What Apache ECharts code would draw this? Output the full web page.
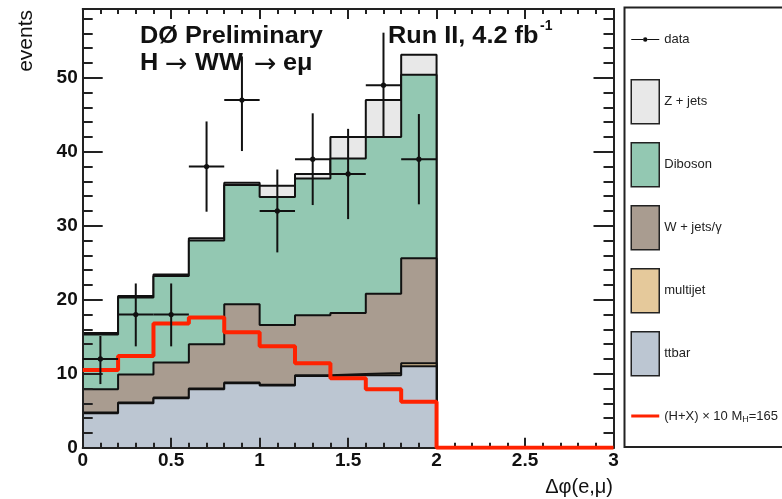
<!DOCTYPE html>
<html>
<head>
<meta charset="utf-8">
<script src="https://cdn.jsdelivr.net/npm/echarts@6/dist/echarts.min.js"></script>
<style>html,body{margin:0;padding:0;background:#fff;}#c{width:782px;height:499px;}</style>
</head>
<body>
<div id="c"></div>
<script>
// ---- data ----
const binEdges = [0, 0.2, 0.4, 0.6, 0.8, 1.0, 1.2, 1.4, 1.6, 1.8, 2.0, 2.2, 2.4, 2.6, 2.8, 3.0];
const ttbar    = [4.65, 6.0, 6.7, 7.9, 8.7, 8.4, 9.7, 9.8, 9.8, 11.0, 0, 0, 0, 0, 0];
const multijet = [0.1, 0.1, 0.1, 0.1, 0.1, 0.1, 0.1, 0.15, 0.3, 0.4, 0, 0, 0, 0, 0];
const wjets    = [3.15, 3.8, 4.7, 6.0, 10.6, 8.1, 8.1, 8.25, 10.7, 14.2, 0, 0, 0, 0, 0];
const diboson  = [7.4, 10.4, 11.7, 14.0, 16.1, 17.3, 18.5, 20.9, 21.2, 24.8, 0, 0, 0, 0, 0];
const zjets    = [0.2, 0.2, 0.2, 0.3, 0.3, 1.5, 0.6, 2.9, 5.0, 2.7, 0, 0, 0, 0, 0];
const signalX10 = [10.5, 12.4, 16.8, 17.6, 15.6, 13.7, 11.4, 9.4, 7.9, 6.2, 0, 0, 0, 0, 0];
const dataX     = [0.1, 0.3, 0.5, 0.7, 0.9, 1.1, 1.3, 1.5, 1.7, 1.9];
const dataY     = [12, 18, 18, 38, 47, 32, 39, 37, 49, 39];
const dataErrUp = [3.1, 4.2, 4.2, 6.1, 5.9, 5.6, 6.2, 6.1, 7.1, 6.1];
const dataErrLo = [3.4, 4.3, 4.3, 6.1, 6.9, 5.6, 6.2, 6.1, 7.0, 6.1];
const xTicks = [0, 0.5, 1, 1.5, 2, 2.5, 3];
const yTicks = [0, 10, 20, 30, 40, 50];

const names = ['Z + jets', 'Diboson', 'W + jets/\u03b3', 'multijet', 'ttbar'];
const colors = ['#e8e8e8', '#93c8b2', '#a99c90', '#e5c99b', '#bcc6d2'];
const comps = [zjets, diboson, wjets, multijet, ttbar];
const signalName = '(H+X) \u00d7 10 M_H=165';

const FONT = '"Liberation Sans", Arial, Helvetica, sans-serif';

function stepPoints(vals) {
  const pts = vals.map((v, i) => [binEdges[i], v]);
  pts.push([binEdges[binEdges.length - 1], vals[vals.length - 1]]);
  return pts;
}
function cumulativeFrom(k) {
  return binEdges.slice(0, -1).map((_, i) => {
    let s = 0;
    for (let j = k; j < comps.length; j++) s += comps[j][i];
    return +s.toFixed(4);
  });
}

const series = [];
names.forEach((n, k) => {
  series.push({
    name: n, type: 'line', step: 'end', xAxisIndex: 0, yAxisIndex: 0,
    data: stepPoints(cumulativeFrom(k)), symbol: 'none', z: 2 + k * 0.01,
    itemStyle: { color: colors[k] },
    lineStyle: { color: '#111', width: 2 },
    areaStyle: { color: colors[k], opacity: 1 },
    silent: true, animation: false
  });
});
series.push({
  name: signalName, type: 'line', step: 'end', xAxisIndex: 0, yAxisIndex: 0,
  data: stepPoints(signalX10), symbol: 'none', z: 11,
  itemStyle: { color: '#ff2200' }, lineStyle: { color: '#ff2200', width: 4 },
  silent: true, animation: false
});
series.push({
  name: 'data', type: 'custom', xAxisIndex: 0, yAxisIndex: 0, z: 12,
  data: dataX.map((x, i) => [x, dataY[i], dataErrUp[i], dataErrLo[i]]),
  encode: { x: 0, y: 1 },
  itemStyle: { color: '#111' },
  renderItem: function (params, api) {
    const x = api.value(0), y = api.value(1), eu = api.value(2), el = api.value(3);
    const c = api.coord([x, y]);
    const t = api.coord([x, y + eu]);
    const b = api.coord([x, y - el]);
    const l = api.coord([x - 0.1, y]);
    const r = api.coord([x + 0.1, y]);
    const st = { stroke: '#111', lineWidth: 2 };
    return { type: 'group', children: [
      { type: 'line', shape: { x1: t[0], y1: t[1], x2: b[0], y2: b[1] }, style: st },
      { type: 'line', shape: { x1: l[0], y1: l[1], x2: r[0], y2: r[1] }, style: st },
      { type: 'circle', shape: { cx: c[0], cy: c[1], r: 2.6 }, style: { fill: '#111' } }
    ]};
  },
  silent: true, animation: false
});

const axisLineStyle = { show: true, onZero: false, lineStyle: { color: '#222', width: 2 } };
function yAx(pos, interval, len, labels) {
  return {
    type: 'value', position: pos, min: 0, max: 59.3, interval: interval, z: 10,
    axisLine: axisLineStyle,
    axisTick: { show: true, inside: true, length: len, lineStyle: { color: '#222', width: 2 } },
    axisLabel: labels ? {
      show: true, margin: 5, color: '#111', fontFamily: FONT, fontWeight: 'bold', fontSize: 19,
      formatter: v => (yTicks.indexOf(v) >= 0 ? String(v) : ''),
      showMaxLabel: false
    } : { show: false },
    splitLine: { show: false }
  };
}
function xAx(pos, labels) {
  return {
    type: 'value', position: pos, min: 0, max: 3, interval: 0.5, z: 10,
    axisLine: axisLineStyle,
    axisTick: { show: true, inside: true, length: 10, lineStyle: { color: '#222', width: 2 } },
    minorTick: { show: true, splitNumber: 5, length: 5, lineStyle: { color: '#222', width: 2 } },
    axisLabel: labels ? {
      show: true, margin: 4, color: '#111', fontFamily: FONT, fontWeight: 'bold', fontSize: 19,
      formatter: v => { const m = xTicks.find(t => Math.abs(t - v) < 1e-6); return m === undefined ? '' : String(m); }
    } : { show: false },
    splitLine: { show: false }, minorSplitLine: { show: false }
  };
}

const BOXPAD = 'M0 0h0.01v0.01h-0.01z M27.99 43.99h0.01v0.01h-0.01z ';
const option = {
  animation: false,
  backgroundColor: '#fff',
  grid: { left: 82.7, right: 168.5, top: 9, bottom: 51.3, show: false },
  xAxis: [xAx('bottom', true), xAx('top', false)],
  yAxis: [yAx('left', 2, 10, true), yAx('left', 10, 20, false), yAx('right', 2, 10, false), yAx('right', 10, 20, false)],
  legend: {
    orient: 'vertical', left: 624.5, top: 7.5,
    padding: [10, 300, 9, 6],
    itemWidth: 28, itemHeight: 44, itemGap: 17.5,
    backgroundColor: '#fff', borderColor: '#222', borderWidth: 2,
    selectedMode: false,
    textStyle: { fontFamily: FONT, fontSize: 13, color: '#222',
      rich: { sub: { fontFamily: FONT, fontSize: 9, color: '#222', verticalAlign: 'bottom', padding: [8, 0, 0, 0] } } },
    formatter: function (n) { return n.indexOf('M_H') >= 0 ? n.replace('M_H', 'M{sub|H}') : n; },
    data: [
      { name: 'data', icon: 'path://' + BOXPAD + 'M0 21.5h12v1h-12z M16 21.5h12v1h-12z M11.8 22a2.2 2.2 0 1 0 4.4 0a2.2 2.2 0 1 0 -4.4 0z', itemStyle: { color: '#111', borderWidth: 0 } }
    ].concat(names.map((n, k) => ({ name: n, icon: 'rect', itemStyle: { color: colors[k], borderColor: '#222', borderWidth: 1.5 } })))
     .concat([{ name: signalName, icon: 'path://' + BOXPAD + 'M0 20.5h28v3h-28z', itemStyle: { color: '#ff2200', borderWidth: 0 } }])
  },
  graphic: [
    { type: 'text', x: 140, y: 37, scaleX: 1.1, style: { text: 'D\u00d8 Preliminary', font: 'bold 23px ' + FONT, fill: '#111', verticalAlign: 'middle' } },
    { type: 'text', x: 140, y: 63.5, scaleX: 1.1, style: { text: 'H', font: 'bold 23px ' + FONT, fill: '#111', verticalAlign: 'middle' } },
    { type: 'text', x: 165, y: 65, style: { text: '\u2192', font: '27px "DejaVu Sans", sans-serif', fill: '#111', verticalAlign: 'middle' } },
    { type: 'text', x: 195, y: 63.5, scaleX: 1.1, style: { text: 'WW', font: 'bold 23px ' + FONT, fill: '#111', verticalAlign: 'middle' } },
    { type: 'text', x: 254, y: 65, style: { text: '\u2192', font: '27px "DejaVu Sans", sans-serif', fill: '#111', verticalAlign: 'middle' } },
    { type: 'text', x: 283, y: 63.5, scaleX: 1.1, style: { text: 'e\u03bc', font: 'bold 23px ' + FONT, fill: '#111', verticalAlign: 'middle' } },
    { type: 'text', x: 388, y: 37, scaleX: 1.1, style: { text: 'Run II, 4.2 fb', font: 'bold 23px ' + FONT, fill: '#111', verticalAlign: 'middle' } },
    { type: 'text', x: 540, y: 26, style: { text: '-1', font: 'bold 14px ' + FONT, fill: '#111', verticalAlign: 'middle' } },
    { type: 'text', x: 26, y: 10, rotation: Math.PI / 2, style: { text: 'events', font: '21px ' + FONT, fill: '#111', align: 'right', verticalAlign: 'middle' } },
    { type: 'text', x: 613, y: 487, style: { text: '\u0394\u03c6(e,\u03bc)', font: '20px ' + FONT, fill: '#111', align: 'right', verticalAlign: 'middle' } }
  ],
  series: series
};
const chart = echarts.init(document.getElementById('c'), null, { renderer: 'canvas' });
chart.setOption(option);
</script>
</body>
</html>
